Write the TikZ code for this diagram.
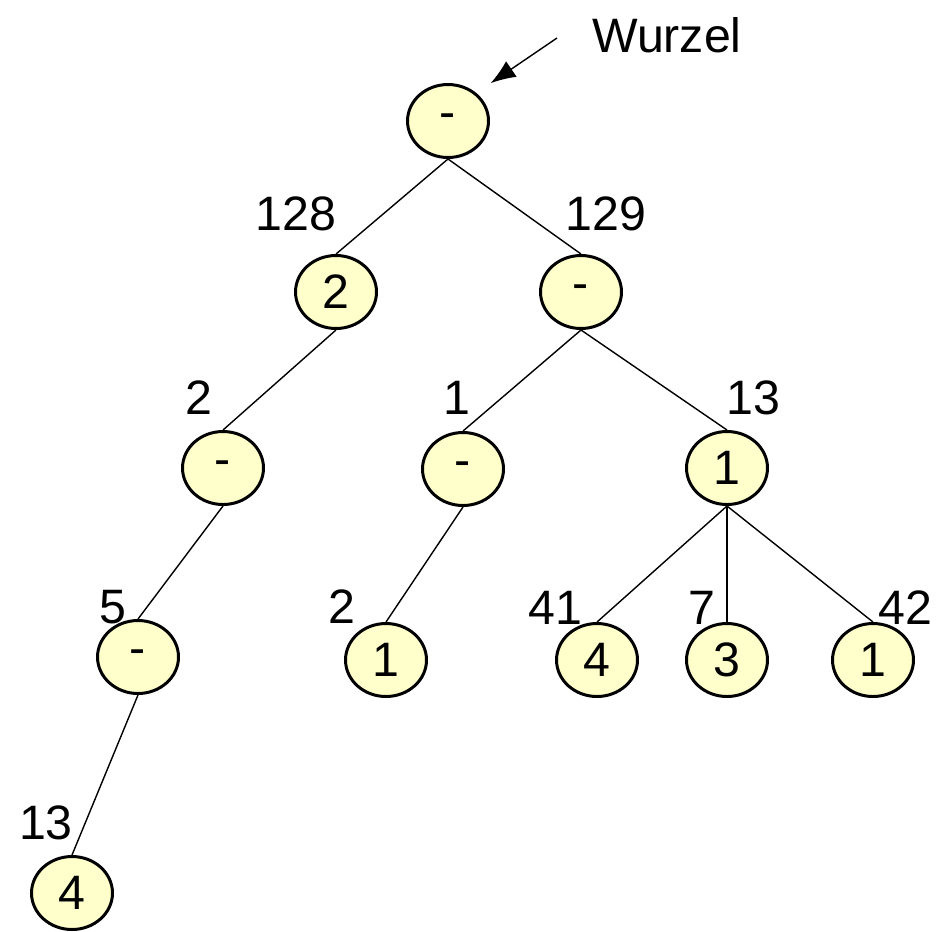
\documentclass[tikz,border=0pt]{standalone}
\usepackage{fontspec}
\setmainfont{Liberation Sans}
\usetikzlibrary{arrows.meta,shapes.geometric}
\definecolor{knotenfarbe}{HTML}{FFFFCC}
\begin{document}
\begin{tikzpicture}[x=0.02cm, y=-0.02cm,
    knoten/.style ={ellipse, draw, line width=1.7pt, fill=knotenfarbe,
      minimum width=1.62cm, minimum height=1.46cm, inner sep=0pt,
      font=\fontsize{27.5}{33}\selectfont},
    marke/.style ={inner sep=0pt, font=\fontsize{27.5}{33}\selectfont},
    kante/.style ={line width=0.8pt}]
   \useasboundingbox (0,0) rectangle (939,931);
   \node[knoten] (W)   at (448,121) {-};
   \node[knoten] (L)   at (336,292) {2};
   \node[knoten] (R)   at (581,292) {-};
   \node[knoten] (LL)  at (223,468) {-};
   \node[knoten] (RL)  at (463,469) {-};
   \node[knoten] (RR)  at (727,468) {1};
   \node[knoten] (LLL) at (138,657) {-};
   \node[knoten] (RLL) at (386,660) {1};
   \node[knoten] (RRA) at (597,660) {4};
   \node[knoten] (RRB) at (727,660) {3};
   \node[knoten] (RRC) at (873,660) {1};
   \node[knoten] (LLLL) at (72,893) {4};

   \node[marke] (mW)   at (667,35)  {Wurzel};
   \node[marke] (mL)   at (296,214) {128};
   \node[marke] (mR)   at (606,214) {129};
   \node[marke] (mLL)  at (199,398) {2};
   \node[marke] (mRL)  at (457,398) {1};
   \node[marke] (mRR)  at (753,398) {13};
   \node[marke] (mLLL) at (113,607) {5};
   \node[marke] (mRLL) at (342,607) {2};
   \node[marke] (mRRA) at (555,608) {41};
   \node[marke] (mRRB) at (702,608) {7};
   \node[marke] (mRRC) at (905,608) {42};
   \node[marke] (mLLLL) at (46,823) {13};

   \coordinate (pfeil) at (557,38);
   \draw[kante, -{Latex[length=5mm, width=3.8mm]}] (pfeil) to ([xshift=0.26cm, yshift=0.22cm]W.north east);

   \draw[kante] (W.south) to (L.north);
   \draw[kante] (W.south) to (R.north);
   \draw[kante] (L.south) to (LL.north);
   \draw[kante] (R.south) to (RL.north);
   \draw[kante] (R.south) to (RR.north);
   \draw[kante] (LL.south) to (LLL.north);
   \draw[kante] (RL.south) to (RLL.north);
   \draw[kante] (RR.south) to (RRA.north);
   \draw[kante] (RR.south) to (RRB.north);
   \draw[kante] (RR.south) to (RRC.north);
   \draw[kante] (LLL.south) to (LLLL.north);
 \end{tikzpicture}
\end{document}
